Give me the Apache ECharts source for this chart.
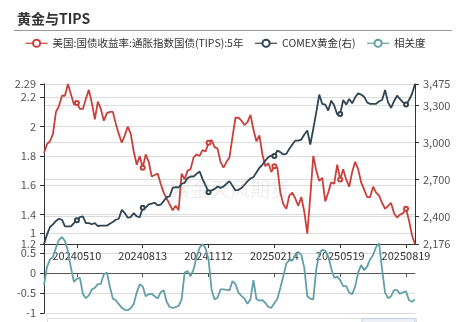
<!DOCTYPE html>
<html>
<head>
<meta charset="utf-8">
<script src="https://cdn.jsdelivr.net/npm/echarts@6/dist/echarts.min.js"></script>
<style>
html,body{margin:0;padding:0;background:#fff;}
#chart{width:456px;height:322px;}
</style>
</head>
<body>
<div id="chart"></div>
<script>
// Trading dates (sampled every ~3 sessions)
var dates = [
'20240326','20240329','20240403','20240408','20240411','20240416','20240419','20240424','20240429','20240502',
'20240507','20240510','20240515','20240520','20240523','20240528','20240531','20240605','20240610','20240613',
'20240618','20240621','20240626','20240701','20240704','20240709','20240712','20240717','20240722','20240725',
'20240730','20240802','20240808','20240813','20240816','20240821','20240826','20240829','20240903','20240906',
'20240911','20240916','20240919','20240924','20240927','20241002','20241007','20241010','20241015','20241018',
'20241023','20241028','20241031','20241105','20241107','20241112','20241115','20241120','20241125','20241128',
'20241203','20241206','20241211','20241216','20241219','20241224','20241227','20250102','20250107','20250110',
'20250115','20250120','20250123','20250128','20250131','20250205','20250210','20250214','20250219','20250224',
'20250227','20250304','20250307','20250312','20250317','20250320','20250325','20250328','20250402','20250407',
'20250410','20250415','20250418','20250423','20250428','20250501','20250506','20250509','20250514','20250519',
'20250522','20250527','20250530','20250604','20250609','20250612','20250617','20250620','20250625','20250630',
'20250703','20250708','20250711','20250716','20250721','20250724','20250729','20250801','20250806','20250811',
'20250814','20250819','20250822','20250827','20250829'
];

// Dates shown on the horizontal axis
var tickDates = ['20240510','20240813','20241112','20250214','20250519','20250819'];

// US 5Y TIPS yield (%)
var tipsYield = [
1.82,1.88,1.90,1.95,2.10,2.14,2.21,2.21,2.29,2.22,
2.15,2.16,2.12,2.12,2.19,2.25,2.16,2.05,2.17,2.12,
2.04,2.09,2.10,2.10,2.02,1.95,1.89,1.94,2.00,1.95,
1.83,1.74,1.80,1.72,1.81,1.76,1.66,1.67,1.68,1.61,
1.55,1.51,1.47,1.43,1.46,1.43,1.68,1.64,1.70,1.71,
1.79,1.81,1.80,1.84,1.83,1.89,1.91,1.86,1.85,1.76,
1.72,1.76,1.79,1.93,2.06,2.06,2.04,2.01,2.03,2.08,
1.98,1.90,1.94,1.81,1.73,1.75,1.69,1.73,1.72,1.55,
1.47,1.44,1.53,1.55,1.51,1.46,1.52,1.42,1.27,1.52,
1.80,1.70,1.63,1.65,1.49,1.55,1.62,1.61,1.74,1.64,
1.71,1.64,1.59,1.69,1.76,1.71,1.62,1.57,1.52,1.52,
1.59,1.55,1.53,1.48,1.44,1.46,1.48,1.41,1.38,1.40,
1.41,1.44,1.36,1.26,1.20
];

// COMEX gold (USD/oz)
var comexGold = [
2176,2252,2314,2336,2363,2381,2373,2319,2319,2319,
2346,2368,2395,2400,2346,2346,2336,2346,2322,2325,
2325,2325,2341,2354,2373,2381,2454,2427,2390,2395,
2427,2400,2395,2471,2471,2497,2503,2511,2489,2495,
2524,2557,2562,2632,2638,2635,2665,2673,2711,2724,
2724,2746,2765,2703,2651,2597,2611,2622,2643,2632,
2643,2665,2686,2648,2611,2616,2630,2657,2684,2708,
2719,2757,2795,2819,2854,2881,2894,2890,2935,2922,
2903,2908,2949,2984,3016,3016,3024,3065,3097,2984,
3110,3245,3389,3313,3308,3260,3340,3300,3227,3232,
3345,3308,3353,3318,3367,3399,3389,3372,3326,3313,
3313,3313,3335,3345,3426,3326,3281,3335,3380,3353,
3326,3308,3345,3394,3475
];

// Rolling correlation
var correlation = [
-0.30,0.15,0.34,0.40,0.63,0.83,0.90,0.80,0.55,0.13,
-0.22,-0.14,-0.12,-0.53,-0.63,-0.56,-0.41,-0.37,-0.28,-0.27,
-0.03,0.01,-0.33,-0.64,-0.68,-0.78,-0.87,-0.92,-0.93,-0.88,
-0.77,-0.49,-0.28,-0.34,-0.58,-0.53,-0.52,-0.58,-0.64,-0.48,
-0.43,-0.72,-0.85,-0.87,-0.85,-0.82,-0.66,0.01,0.05,-0.08,
0.09,0.40,0.63,0.72,0.62,0.34,-0.41,-0.66,-0.62,-0.41,
-0.41,-0.42,-0.43,-0.20,-0.28,-0.49,-0.57,-0.64,-0.77,-0.66,
-0.18,-0.65,-0.69,-0.68,-0.75,-0.85,-0.87,-0.75,-0.65,-0.37,
-0.08,0.24,0.32,0.31,0.44,0.53,0.45,0.13,-0.58,-0.64,
-0.66,0.09,0.48,0.58,0.56,0.42,0.12,-0.12,-0.09,-0.18,
-0.33,-0.33,-0.49,-0.53,-0.34,0.01,0.20,0.07,0.16,0.34,
0.45,0.65,0.74,0.09,-0.49,-0.63,-0.58,-0.43,-0.43,-0.52,
-0.48,-0.46,-0.68,-0.72,-0.66
];

var seriesNames = ['美国:国债收益率:通胀指数国债(TIPS):5年', 'COMEX黄金(右)', '相关度'];
var colors = ['#c9403b', '#2f4554', '#61a0a8'];

var FONT = '"Noto Sans CJK SC", "Noto Sans", sans-serif';
var showTick = function (idx, val) { return tickDates.indexOf(val) >= 0; };

var chart = echarts.init(document.getElementById('chart'), null, { renderer: 'canvas' });

var axisLineStyle = { lineStyle: { color: '#333', width: 1 } };
var splitStyle = { show: true, lineStyle: { color: '#dcdcdc', width: 1 } };
var labelStyle = { color: '#555', fontSize: 11, fontFamily: FONT };

function lineSeries(i, xi, yi, values) {
  return {
    name: seriesNames[i],
    type: 'line',
    xAxisIndex: xi,
    yAxisIndex: yi,
    data: values,
    symbol: 'emptyCircle',
    symbolSize: 4,
    itemStyle: { borderWidth: 1 },
    lineStyle: { width: 1.8 }
  };
}

chart.setOption({
  animation: false,
  color: colors,
  textStyle: { fontFamily: FONT },
  title: {
    text: '黄金与TIPS',
    left: 12,
    top: 7,
    textStyle: { fontSize: 14, fontWeight: 'bold', color: '#333', fontFamily: FONT }
  },
  legend: {
    left: 20,
    top: 33,
    itemWidth: 22,
    itemHeight: 9,
    itemGap: 11,
    itemStyle: { borderWidth: 1 },
    lineStyle: { width: 1.2 },
    textStyle: { fontSize: 10.5, color: '#333', fontFamily: FONT },
    data: seriesNames
  },
  graphic: [
    {
      type: 'line',
      shape: { x1: 14, y1: 30.5, x2: 452, y2: 30.5 },
      style: { stroke: '#9a9a9a', lineWidth: 1 },
      silent: true
    },
    {
      type: 'text',
      left: 170,
      top: 179,
      z: 0,
      style: { text: '紫金天风期货', fill: 'rgba(0,0,0,0.07)', font: '20px ' + FONT },
      silent: true
    },
    {
      type: 'rect',
      shape: { x: 47.5, y: 318.5, width: 369, height: 20 },
      style: { fill: 'none', stroke: '#dddddd', lineWidth: 1 },
      silent: true
    },
    {
      type: 'rect',
      shape: { x: 362, y: 318.5, width: 53, height: 20 },
      style: { fill: 'rgba(167,183,204,0.2)', stroke: '#c3cfde', lineWidth: 1 },
      silent: true
    }
  ],
  grid: [
    { left: 44, right: 41, top: 84, height: 160 },
    { left: 44, right: 41, top: 233, height: 80 }
  ],
  xAxis: [
    {
      type: 'category',
      gridIndex: 0,
      data: dates,
      boundaryGap: false,
      axisLine: axisLineStyle,
      axisTick: { show: true, interval: showTick, length: 4, lineStyle: { color: '#333' } },
      axisLabel: { interval: showTick, color: '#333', fontSize: 11, margin: 6, fontFamily: FONT },
      splitLine: { show: false }
    },
    {
      type: 'category',
      gridIndex: 1,
      data: dates,
      boundaryGap: false,
      axisLine: { onZero: true, lineStyle: { color: '#555', width: 1 } },
      axisTick: { show: true, interval: showTick, length: 4, lineStyle: { color: '#555' } },
      axisLabel: { show: false, interval: showTick },
      splitLine: { show: false }
    }
  ],
  yAxis: [
    {
      type: 'value',
      gridIndex: 0,
      position: 'left',
      min: 1.2,
      max: 2.29,
      interval: 0.2,
      axisLine: { show: true, lineStyle: { color: '#333' } },
      axisTick: { show: true, length: 4 },
      axisLabel: labelStyle,
      splitLine: splitStyle
    },
    {
      type: 'value',
      gridIndex: 0,
      position: 'right',
      min: 2176,
      max: 3475,
      splitNumber: 5,
      axisLine: { show: true, lineStyle: { color: '#333' } },
      axisTick: { show: true, length: 4 },
      axisLabel: labelStyle,
      splitLine: splitStyle
    },
    {
      type: 'value',
      gridIndex: 1,
      position: 'left',
      min: -1,
      max: 1,
      interval: 0.5,
      axisLine: { show: true, lineStyle: { color: '#333' } },
      axisTick: { show: true, length: 4 },
      axisLabel: labelStyle,
      splitLine: splitStyle
    }
  ],
  series: [
    lineSeries(0, 0, 0, tipsYield),
    lineSeries(1, 0, 1, comexGold),
    lineSeries(2, 1, 2, correlation)
  ]
});
</script>
</body>
</html>
